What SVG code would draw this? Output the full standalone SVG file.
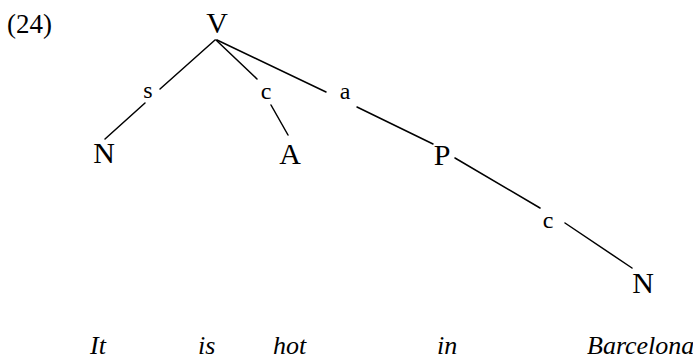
<svg xmlns="http://www.w3.org/2000/svg" width="693" height="360" viewBox="0 0 693 360">
  <style>
    .node { font-family: "Liberation Serif", "Times New Roman", serif; font-size: 30px; fill: #000; text-anchor: middle; }
    .elabel { font-family: "Liberation Serif", "Times New Roman", serif; font-size: 24px; fill: #000; text-anchor: middle; }
    .word { font-family: "Liberation Serif", "Times New Roman", serif; font-size: 26px; font-style: italic; fill: #000; }
    .num { font-family: "Liberation Serif", "Times New Roman", serif; font-size: 27px; fill: #000; }
    .edge { stroke: #000; stroke-width: 1.5; fill: none; stroke-linecap: round; }
  </style>
  <rect width="693" height="360" fill="#fff"/>
  <text class="num" x="7" y="33">(24)</text>
  <g id="connectors">
    <line class="edge" x1="215" y1="40" x2="160" y2="89"/>
    <line class="edge" x1="145" y1="103" x2="105" y2="139"/>
    <line class="edge" x1="216" y1="40" x2="257" y2="79"/>
    <line class="edge" x1="271" y1="105" x2="288" y2="135"/>
    <line class="edge" x1="217" y1="40" x2="326" y2="92"/>
    <line class="edge" x1="357" y1="107" x2="433" y2="144"/>
    <line class="edge" x1="455" y1="158" x2="540" y2="208"/>
    <line class="edge" x1="565" y1="223" x2="632" y2="268"/>
    <text class="elabel" x="148" y="98">s</text>
    <text class="elabel" x="266" y="99">c</text>
    <text class="elabel" x="345" y="99">a</text>
    <text class="elabel" x="548" y="228">c</text>
  </g>
  <g id="node-V"><text class="node" x="217" y="33">V</text></g>
  <g id="node-N1"><text class="node" x="104" y="163">N</text></g>
  <g id="node-A"><text class="node" x="290" y="164">A</text></g>
  <g id="node-P"><text class="node" x="442" y="165">P</text></g>
  <g id="node-N2"><text class="node" x="643" y="293">N</text></g>
  <g id="words">
    <text class="word" x="90" y="354">It</text>
    <text class="word" x="198" y="354">is</text>
    <text class="word" x="273" y="354">hot</text>
    <text class="word" x="437" y="354">in</text>
    <text class="word" x="587" y="354">Barcelona</text>
  </g>
</svg>
